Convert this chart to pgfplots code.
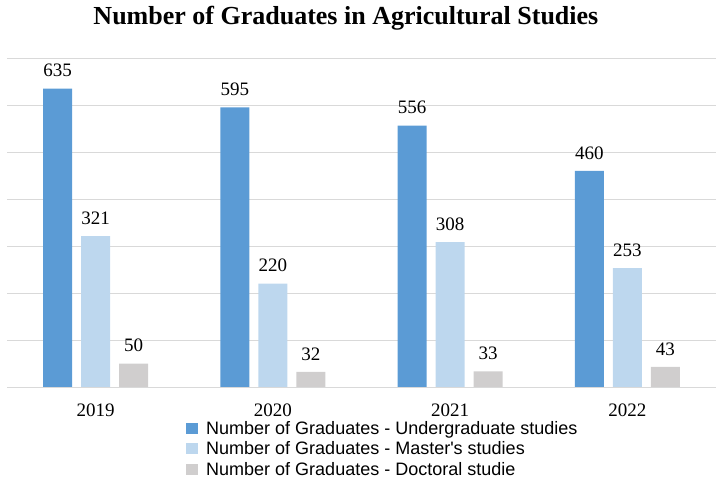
\documentclass[border=0pt]{standalone}
\usepackage{pgfplots}
\pgfplotsset{compat=1.18}
\usepackage{fontspec}
\setmainfont{Liberation Serif}
\newfontfamily\legendfont{Liberation Sans}
\definecolor{ug}{HTML}{5B9BD5}
\definecolor{ms}{HTML}{BDD7EE}
\definecolor{dr}{HTML}{D0CECE}
\definecolor{gridc}{HTML}{D9D9D9}
\begin{document}
\begin{tikzpicture}
\useasboundingbox (0,0) rectangle (716bp,481bp);
\begin{axis}[
  at={(7bp,94bp)}, anchor=south west,
  scale only axis, width=709bp, height=329bp,
  ybar=9bp, bar width=29bp,
  xmin=-0.5, xmax=3.5, ymin=0, ymax=700,
  xtick={0,1,2,3}, xticklabels={2019,2020,2021,2022},
  ytick={0,100,...,700}, yticklabels={},
  ymajorgrids, grid style={draw=gridc, line width=0.8bp},
  axis line style={draw=none},
  major tick style={draw=none},
  tick label style={font=\fontsize{19bp}{21bp}\selectfont},
  xticklabel style={inner sep=0pt, text depth=0pt, anchor=north, yshift=-12bp},
  /pgf/number format/assume math mode=true,
  nodes near coords,
  every node near coord/.append style={font=\fontsize{19bp}{21bp}\selectfont, yshift=8bp, text=black},
  title={\textbf{Number of Graduates in Agricultural Studies}},
  title style={font=\fontsize{26bp}{30bp}\selectfont, at={(axis description cs:0.478,1.084)}, anchor=base, yshift=0pt},
  legend style={draw=none, fill=none, at={(axis description cs:0.2525,-0.103)}, anchor=north west,
    font=\legendfont\fontsize{18bp}{20bp}\selectfont, cells={anchor=west}, row sep=6bp,
    inner sep=0pt, nodes={inner sep=0pt}},
  legend image code/.code={\fill[#1] (0bp,-5.5bp) rectangle (12bp,5.5bp);},
]
\addplot[fill=ug, draw=none] coordinates {(0,635) (1,595) (2,556) (3,460)};
\addlegendentry{\hspace{8bp}Number of Graduates - Undergraduate studies}
\addplot[fill=ms, draw=none] coordinates {(0,321) (1,220) (2,308) (3,253)};
\addlegendentry{\hspace{8bp}Number of Graduates - Master's studies}
\addplot[fill=dr, draw=none] coordinates {(0,50) (1,32) (2,33) (3,43)};
\addlegendentry{\hspace{8bp}Number of Graduates - Doctoral studie}
\end{axis}
\end{tikzpicture}
\end{document}
